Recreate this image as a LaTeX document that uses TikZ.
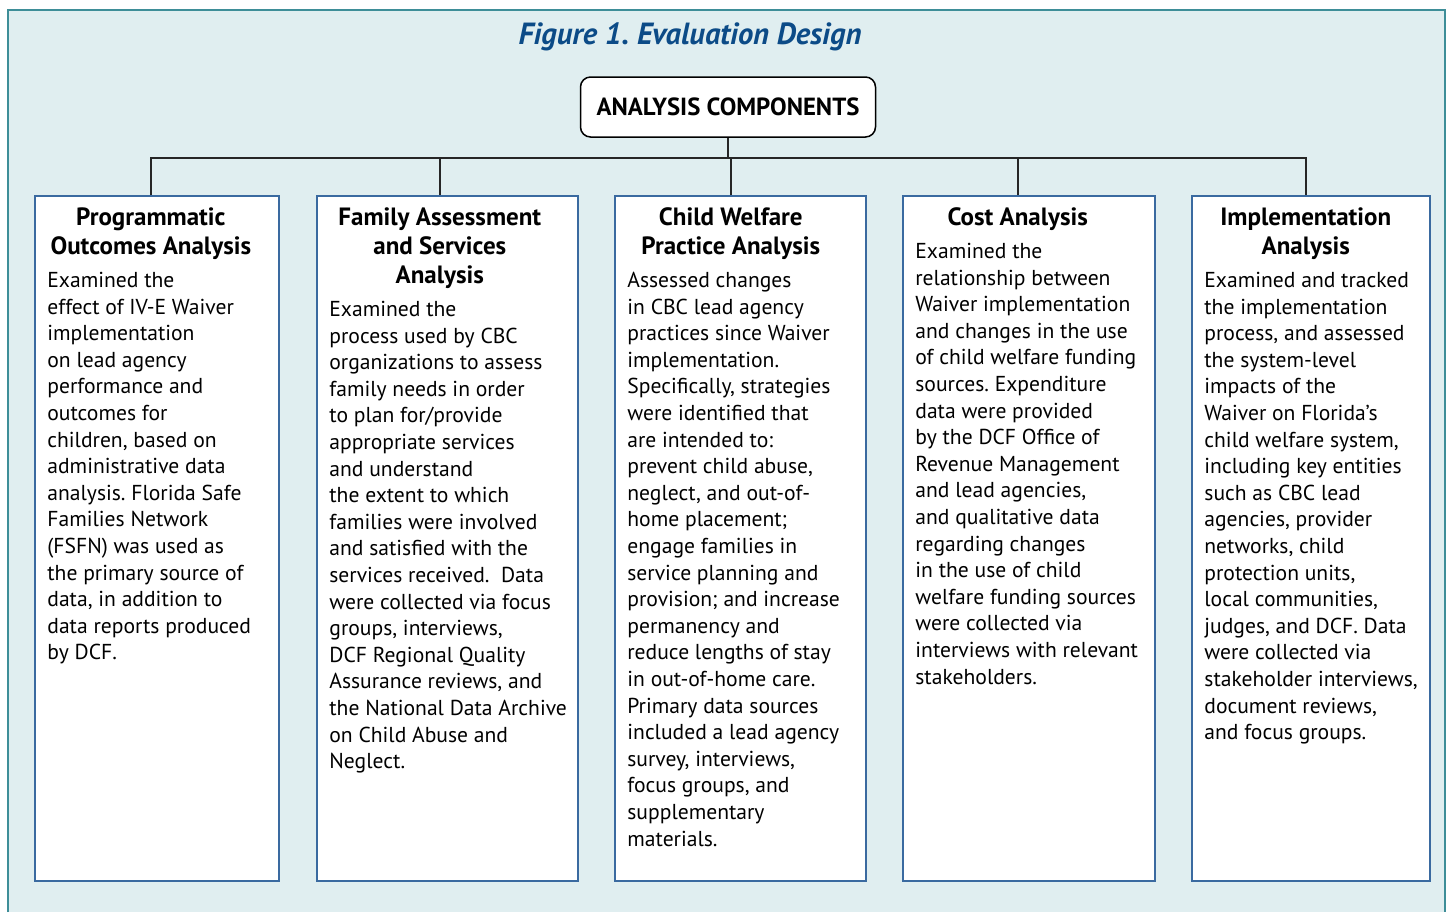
\documentclass[tikz,border=0pt]{standalone}
\usepackage{fontspec}
\setmainfont{PT Sans}
\frenchspacing
\usetikzlibrary{positioning}
\definecolor{panelbg}{HTML}{E0EEF0}
\definecolor{panelrule}{HTML}{3E8E98}
\definecolor{titleblue}{HTML}{0C4B87}
\definecolor{boxrule}{HTML}{3A6AA0}
\begin{document}
\begin{tikzpicture}[x=0.5pt,y=-0.5pt,
	colbox/.style={draw=boxrule,line width=0.8pt,fill=white,minimum height=342.5pt,inner sep=0pt,anchor=north west},
	hdtxt/.style={font=\fontsize{12.5}{14.5}\selectfont\bfseries,align=center,inner sep=0pt},
	bodytxt/.style={font=\fontsize{10.8}{13.3}\selectfont,align=left,inner sep=0pt,anchor=north west},
	link/.style={draw=black!85,line width=0.75pt}]
		\useasboundingbox (0,0) rectangle (1448,912);
		\fill [panelbg] (8,10) rectangle (1444.5,912);
		\draw [panelrule,line width=1pt] (8,912) -- (8,10) -- (1444.5,10) -- (1444.5,912);
		\node [font=\fontsize{15.3}{18}\selectfont\bfseries\itshape,text=titleblue] (title) at (690,37) {Figure 1. Evaluation Design};
		\node [draw=black,fill=white,rounded corners=5pt,line width=0.75pt,minimum width=147.5pt,minimum height=30pt,font=\fontsize{12.4}{14}\selectfont\bfseries] (comp) at (728,107) {ANALYSIS COMPONENTS};
		\coordinate (bus) at (730,158);
		% five columns
		\node [colbox,minimum width=122pt] (prog) at (34,195) {};
		\node [colbox,minimum width=130.5pt] (fam) at (316,195) {};
		\node [colbox,minimum width=125.5pt] (cw) at (614,195) {};
		\node [colbox,minimum width=126pt] (cost) at (902,195) {};
		\node [colbox,minimum width=119pt] (impl) at (1191,195) {};
		\coordinate (progtop) at ([xshift=-3pt]prog.north);
		\coordinate (famtop) at ([xshift=-3.75pt]fam.north);
		\coordinate (cwtop) at ([xshift=-4.75pt]cw.north);
		\coordinate (costtop) at ([xshift=-5.5pt]cost.north);
		\coordinate (impltop) at ([xshift=-2.5pt]impl.north);
		\draw [link] (comp.south) -- (comp.south |- bus);
		\draw [link] (progtop) |- (impltop |- bus) -- (impltop);
		\foreach \n in {fam,cw,cost}
			\draw [link] (\n top) -- (\n top |- bus);
		% headings
		\node [hdtxt,below=6pt of progtop] (proghd) {Programmatic\\Outcomes Analysis};
		\node [hdtxt,below=6pt of famtop] (famhd) {Family Assessment\\and Services\\Analysis};
		\node [hdtxt,below=6pt of cwtop] (cwhd) {Child Welfare\\Practice Analysis};
		\node [hdtxt,below=6pt of costtop] (costhd) {Cost Analysis};
		\node [hdtxt,below=6pt of impltop] (implhd) {Implementation\\Analysis};
		% body texts
		\node [bodytxt] (progtxt) at ([xshift=6.5pt,yshift=-6pt]prog.west |- proghd.south) {Examined the\\effect of IV-E Waiver\\implementation\\on lead agency\\performance and\\outcomes for\\children, based on\\administrative data\\analysis. Florida Safe\\Families Network\\(FSFN) was used as\\the primary source of\\data, in addition to\\data reports produced\\by DCF.};
		\node [bodytxt] (famtxt) at ([xshift=6.5pt,yshift=-6pt]fam.west |- famhd.south) {Examined the\\process used by CBC\\organizations to assess\\family needs in order\\to plan for/provide\\appropriate services\\and understand\\the extent to which\\families were involved\\and satisfied with the\\services received.~ Data\\were collected via focus\\groups, interviews,\\DCF Regional Quality\\Assurance reviews, and\\the National Data Archive\\on Child Abuse and\\Neglect.};
		\node [bodytxt] (cwtxt) at ([xshift=6.5pt,yshift=-6pt]cw.west |- cwhd.south) {Assessed changes\\in CBC lead agency\\practices since Waiver\\implementation.\\Specifically, strategies\\were identified that\\are intended to:\\prevent child abuse,\\neglect, and out-of-\\home placement;\\engage families in\\service planning and\\provision; and increase\\permanency and\\reduce lengths of stay\\in out-of-home care.\\Primary data sources\\included a lead agency\\survey, interviews,\\focus groups, and\\supplementary\\materials.};
		\node [bodytxt] (costtxt) at ([xshift=6.5pt,yshift=-6pt]cost.west |- costhd.south) {Examined the\\relationship between\\Waiver implementation\\and changes in the use\\of child welfare funding\\sources. Expenditure\\data were provided\\by the DCF Office of\\Revenue Management\\and lead agencies,\\and qualitative data\\regarding changes\\in the use of child\\welfare funding sources\\were collected via\\interviews with relevant\\stakeholders.};
		\node [bodytxt] (impltxt) at ([xshift=6.5pt,yshift=-6pt]impl.west |- implhd.south) {Examined and tracked\\the implementation\\process, and assessed\\the system-level\\impacts of the\\Waiver on Florida’s\\child welfare system,\\including key entities\\such as CBC lead\\agencies, provider\\networks, child\\protection units,\\local communities,\\judges, and DCF. Data\\were collected via\\stakeholder interviews,\\document reviews,\\and focus groups.};
	\end{tikzpicture}
\end{document}
